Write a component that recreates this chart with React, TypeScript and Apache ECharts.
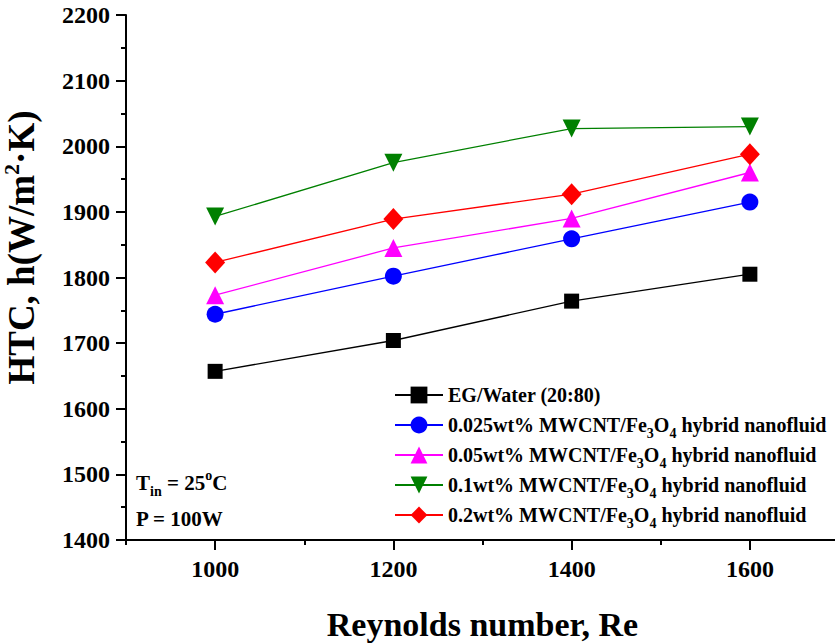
import React, { useEffect, useRef } from "react";
import * as echarts from "echarts";

const reynolds = [1000, 1200, 1400, 1600];
const egWater = [1657, 1704, 1764, 1805];
const mw0025 = [1744, 1802, 1859, 1915];
const mw005 = [1773, 1845, 1890, 1960];
const mw01 = [1893, 1975, 2027, 2030];
const mw02 = [1823, 1889, 1927, 1988];

const seriesNames = [
  "EG/Water (20:80)",
  "0.025wt% MWCNT/Fe3O4 hybrid nanofluid",
  "0.05wt% MWCNT/Fe3O4 hybrid nanofluid",
  "0.1wt% MWCNT/Fe3O4 hybrid nanofluid",
  "0.2wt% MWCNT/Fe3O4 hybrid nanofluid",
];
const legendRich = [
  "{a|EG/Water (20:80)}",
  "{a|0.025wt% MWCNT/Fe}{sub|3}{a|O}{sub|4}{a| hybrid nanofluid}",
  "{a|0.05wt% MWCNT/Fe}{sub|3}{a|O}{sub|4}{a| hybrid nanofluid}",
  "{a|0.1wt% MWCNT/Fe}{sub|3}{a|O}{sub|4}{a| hybrid nanofluid}",
  "{a|0.2wt% MWCNT/Fe}{sub|3}{a|O}{sub|4}{a| hybrid nanofluid}",
];
const seriesValues = [egWater, mw0025, mw005, mw01, mw02];
const seriesColors = ["#000000", "#0000ff", "#ff00ff", "#008000", "#ff0000"];
const seriesSymbols = ["rect", "circle", "triangle", "triangle", "diamond"];
const seriesSymbolSizes: any[] = [15, 17, 18, 18, [20, 22]];
const seriesSymbolRotate = [0, 0, 0, 180, 0];

const xMajorTicks = [1000, 1200, 1400, 1600];
const xMinorTicks = [900, 1100, 1300, 1500, 1700];

const FONT = "'Liberation Serif', 'Times New Roman', serif";

export default function App() {
  const ref = useRef<HTMLDivElement>(null);
  useEffect(() => {
    if (!ref.current) return;
    const chart = echarts.init(ref.current, undefined, { renderer: "svg" });
    const option: any = {
      animation: false,
      backgroundColor: "#ffffff",
      textStyle: { fontFamily: FONT, fontWeight: "bold", color: "#000" },
      grid: {
        left: 126,
        top: 15,
        width: 713,
        height: 525,
        containLabel: false,
        outerBoundsMode: "none",
      },
      xAxis: [
        {
          type: "value",
          min: 900,
          max: 1700,
          position: "bottom",
          name: "Reynolds number, Re",
          nameLocation: "middle",
          nameGap: 67,
          nameTextStyle: { fontFamily: FONT, fontWeight: "bold", fontSize: 34, color: "#000" },
          axisLine: { show: true, onZero: false, lineStyle: { color: "#000", width: 2 } },
          axisTick: { show: true, customValues: xMajorTicks, length: 10, lineStyle: { color: "#000", width: 2 } },
          axisLabel: {
            customValues: xMajorTicks,
            formatter: (v: number) => String(v),
            margin: 17,
            fontFamily: FONT,
            fontWeight: "bold",
            fontSize: 24,
            color: "#000",
          },
          splitLine: { show: false },
        },
        {
          type: "value",
          min: 900,
          max: 1700,
          position: "bottom",
          axisLine: { show: false },
          axisTick: { show: true, customValues: xMinorTicks, length: 5, lineStyle: { color: "#000", width: 2 } },
          axisLabel: { show: false },
          splitLine: { show: false },
        },
      ],
      yAxis: {
        type: "value",
        min: 1400,
        max: 2200,
        interval: 100,
        name: "HTC, h(W/m{sup|2}·K)",
        nameLocation: "middle",
        nameGap: 84,
        nameRotate: 90,
        nameTextStyle: {
          fontFamily: FONT,
          fontWeight: "bold",
          fontSize: 37,
          color: "#000",
          padding: [0, 0, 0, 60],
          rich: {
            sup: { fontFamily: FONT, fontWeight: "bold", fontSize: 22, verticalAlign: "top", lineHeight: 42 },
          },
          lineHeight: 42,
        },
        axisLine: { show: true, onZero: false, lineStyle: { color: "#000", width: 2 } },
        axisTick: { show: true, length: 10, lineStyle: { color: "#000", width: 2 } },
        minorTick: { show: true, splitNumber: 2, length: 5, lineStyle: { color: "#000", width: 2 } },
        axisLabel: {
          formatter: (v: number) => String(v),
          margin: 16,
          fontFamily: FONT,
          fontWeight: "bold",
          fontSize: 24,
          color: "#000",
        },
        splitLine: { show: false },
      },
      legend: {
        orient: "vertical",
        left: 389,
        top: 375,
        itemWidth: 48,
        itemHeight: 21,
        itemGap: 0,
        data: seriesNames,
        formatter: (name: string) => legendRich[seriesNames.indexOf(name)],
        textStyle: {
          fontFamily: FONT,
          fontWeight: "bold",
          fontSize: 20,
          color: "#000",
          lineHeight: 30,
          rich: {
            a: { fontFamily: FONT, fontWeight: "bold", fontSize: 20, color: "#000", lineHeight: 30, verticalAlign: "middle" },
            sub: { fontFamily: FONT, fontWeight: "bold", fontSize: 14, color: "#000", lineHeight: 14, verticalAlign: "bottom" },
          },
        },
      },
      graphic: [
        {
          type: "text",
          left: 136,
          top: 468,
          style: {
            text: "{a|T}{sub|in}{a| = 25}{sup|o}{a|C}",
            fill: "#000",
            rich: {
              a: { fontFamily: FONT, fontWeight: "bold", fontSize: 21, lineHeight: 30, verticalAlign: "middle" },
              sub: { fontFamily: FONT, fontWeight: "bold", fontSize: 14, lineHeight: 14, verticalAlign: "bottom" },
              sup: { fontFamily: FONT, fontWeight: "bold", fontSize: 14, lineHeight: 14, verticalAlign: "top" },
            },
          },
        },
        {
          type: "text",
          left: 136,
          top: 508,
          style: {
            text: "P = 100W",
            fill: "#000",
            font: "bold 21px " + FONT,
          },
        },
      ],
      series: seriesNames.map((name, i) => ({
        name,
        type: "line",
        xAxisIndex: 0,
        yAxisIndex: 0,
        data: reynolds.map((x, j) => [x, seriesValues[i][j]]),
        symbol: seriesSymbols[i],
        symbolSize: seriesSymbolSizes[i],
        symbolRotate: seriesSymbolRotate[i],
        showAllSymbol: true,
        lineStyle: { color: seriesColors[i], width: 1.3 },
        itemStyle: { color: seriesColors[i], borderWidth: 0 },
        z: 2 + i,
      })),
    };
    chart.setOption(option);
    return () => chart.dispose();
  }, []);
  return <div ref={ref} style={{ width: 835, height: 643, position: "absolute", left: 0, top: 0 }} />;
}
